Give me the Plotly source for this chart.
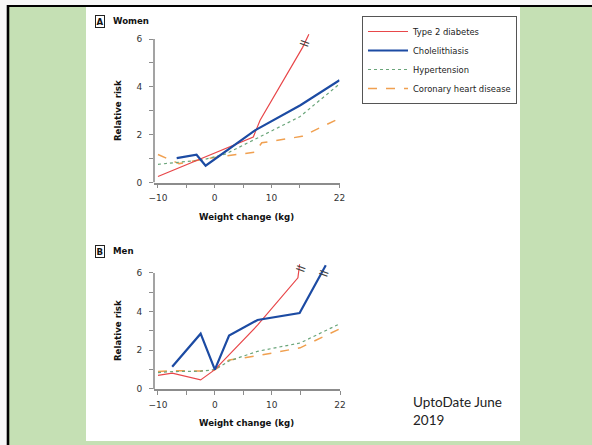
import plotly.graph_objects as go

W, H = 592, 445

def px(x):
    return x / W

def py(y):
    return 1 - y / H

# ---------------- data ----------------
series_names = ["Type 2 diabetes", "Cholelithiasis", "Hypertension", "Coronary heart disease"]

# Women (panel A)
w_diab_x = [-10, 6.8, 8.0, 15.5, 16.6]
w_diab_y = [0.25, 1.9, 2.6, 5.65, 6.2]
w_chol_x = [-6.7, -3.2, -1.6, 7.1, 15.1, 22]
w_chol_y = [1.02, 1.16, 0.70, 2.18, 3.23, 4.28]
w_hyp_x = [-10, -6, -2, 2, 7, 15, 22]
w_hyp_y = [0.76, 0.85, 0.95, 1.2, 1.8, 2.75, 4.12]
w_chd_x = [-10, -6.3, 0, 7.1, 8.3, 15.4, 22]
w_chd_y = [1.17, 0.79, 1.05, 1.27, 1.66, 1.93, 2.68]

# Men (panel B)
m_diab_x = [-10, -7.5, -2.5, 0, 7.5, 14.6, 14.9]
m_diab_y = [0.7, 0.82, 0.47, 1.0, 3.3, 5.75, 6.45]
m_chol_x = [-7.5, -2.5, 0, 2.5, 7.5, 14.9, 19.5]
m_chol_y = [1.15, 2.86, 1.0, 2.76, 3.57, 3.93, 6.4]
m_hyp_x = [-10, -7.5, -2.5, 0, 2.5, 7.5, 15, 22]
m_hyp_y = [0.85, 0.9, 0.92, 1.0, 1.45, 1.95, 2.38, 3.38]
m_chd_x = [-10, -7.5, -2.5, 0, 2.5, 7.5, 15, 22]
m_chd_y = [0.9, 0.95, 0.93, 1.0, 1.5, 1.72, 2.13, 3.12]

# axis break marks (x, y) per panel
w_break_x = [16.0]
w_break_y = [5.85]
m_break_x = [15.1, 19.2]
m_break_y = [6.25, 6.0]

x_tickvals = [-10, -5, 0, 5, 10, 15, 22]
x_ticktext = ["\u221210", "", "0", "", "10", "", "22"]
y_tickvals = [0, 1, 2, 3, 4, 5, 6]
y_ticktext = ["0", "", "2", "", "4", "", "6"]

# ---------------- styles ----------------
styles = [
    dict(color="#e8474a", width=1.2, dash="solid"),
    dict(color="#1c4ba3", width=2.2, dash="solid"),
    dict(color="#6aa57a", width=1.2, dash="dot"),
    dict(color="#f0a050", width=1.5, dash="dash"),
]

fig = go.Figure()

women = [(w_diab_x, w_diab_y), (w_chol_x, w_chol_y), (w_hyp_x, w_hyp_y), (w_chd_x, w_chd_y)]
men = [(m_diab_x, m_diab_y), (m_chol_x, m_chol_y), (m_hyp_x, m_hyp_y), (m_chd_x, m_chd_y)]

order = [3, 2, 0, 1]
for i in order:
    xs, ys = women[i]
    fig.add_trace(go.Scatter(x=xs, y=ys, mode="lines", name=series_names[i],
                             line=styles[i], xaxis="x", yaxis="y",
                             legendrank=i, showlegend=True, hoverinfo="skip"))
for i in order:
    xs, ys = men[i]
    fig.add_trace(go.Scatter(x=xs, y=ys, mode="lines", name=series_names[i],
                             line=styles[i], xaxis="x2", yaxis="y2",
                             showlegend=False, hoverinfo="skip"))

axis_col = "#8c8c8c"
tick_font = dict(family="DejaVu Sans", size=9, color="#333333")

common_x = dict(range=[-10.7, 22], tickvals=x_tickvals, ticktext=x_ticktext,
                ticks="outside", ticklen=4, tickcolor=axis_col, tickwidth=1.2,
                showline=True, linecolor=axis_col, linewidth=1.6,
                showgrid=False, zeroline=False, tickfont=tick_font, fixedrange=True,
                automargin=False, ticklabelstandoff=2)
common_y = dict(tickvals=y_tickvals, ticktext=y_ticktext,
                ticks="outside", ticklen=4, tickcolor=axis_col, tickwidth=1.2,
                showline=False, showgrid=False, zeroline=False,
                tickfont=tick_font, fixedrange=True, automargin=False,
                ticklabelstandoff=5)

a_y0, a_unit = 182.5, (182.5 - 39) / 6
a_top = 6.5
b_y0, b_unit = 389.0, (389 - 273) / 6
b_top = 6.7

fig.update_layout(
    xaxis=dict(domain=[px(154), px(339.5)], anchor="y", **common_x),
    yaxis=dict(domain=[py(a_y0), py(a_y0 - a_top * a_unit)], anchor="x",
               range=[0, a_top], **common_y),
    xaxis2=dict(domain=[px(154), px(340)], anchor="y2", **common_x),
    yaxis2=dict(domain=[py(b_y0), py(b_y0 - b_top * b_unit)], anchor="x2",
                range=[0, b_top], **common_y),
)

shapes = [
    dict(type="rect", xref="paper", yref="paper", x0=px(8), x1=1, y0=0, y1=py(6),
         fillcolor="#c5e0b4", line=dict(width=0), layer="below"),
    dict(type="rect", xref="paper", yref="paper", x0=px(86), x1=px(520), y0=py(441), y1=py(7),
         fillcolor="white", line=dict(width=0), layer="below"),
    dict(type="line", xref="paper", yref="paper", x0=px(7), x1=1, y0=py(6), y1=py(6),
         line=dict(color="black", width=2.2), layer="below"),
    dict(type="line", xref="paper", yref="paper", x0=px(8), x1=px(8), y0=0, y1=py(5),
         line=dict(color="black", width=2.6), layer="below"),
    dict(type="line", xref="x domain", yref="y", x0=0, x1=0, y0=0, y1=6,
         line=dict(color=axis_col, width=1.6)),
    dict(type="line", xref="x2 domain", yref="y2", x0=0, x1=0, y0=0, y1=6,
         line=dict(color=axis_col, width=1.6)),
]

title_font = dict(family="DejaVu Sans", size=8.6, color="#111111")
ann = []
for xa, ya, yc_title, yc_rr, lab, name, ylab in [
    ("x", "y", 217, 110.5, "A", "Women", 21.3),
    ("x2", "y2", 423, 330.5, "B", "Men", 251.3),
]:
    ann.append(dict(text="<b>Weight change (kg)</b>", xref="paper", yref="paper",
                    x=px(246.5), y=py(yc_title), showarrow=False, font=title_font,
                    xanchor="center", yanchor="middle"))
    ann.append(dict(text="<b>Relative risk</b>", xref="paper", yref="paper",
                    x=px(117.5), y=py(yc_rr), showarrow=False, font=title_font,
                    textangle=-90, xanchor="center", yanchor="middle"))
    ann.append(dict(text="<b>%s</b>" % lab, xref="paper", yref="paper",
                    x=px(99.5), y=py(ylab), showarrow=False, font=title_font,
                    bordercolor="#222222", borderwidth=1, borderpad=0.5,
                    xanchor="center", yanchor="middle"))
    ann.append(dict(text="<b>%s</b>" % name, xref="paper", yref="paper",
                    x=px(111), y=py(ylab), showarrow=False, font=title_font,
                    xanchor="left", yanchor="middle"))

brk_font = dict(family="DejaVu Sans", size=14, color="#444444")
for bx, by in zip(w_break_x, w_break_y):
    ann.append(dict(text="=", xref="x", yref="y", x=bx, y=by, showarrow=False,
                    textangle=20, font=brk_font))
for bx, by in zip(m_break_x, m_break_y):
    ann.append(dict(text="=", xref="x2", yref="y2", x=bx, y=by, showarrow=False,
                    textangle=20, font=brk_font))

ann.append(dict(text="UptoDate June<br>2019", xref="paper", yref="paper",
                x=px(411), y=py(411), showarrow=False, align="left",
                xanchor="left", yanchor="middle",
                font=dict(family="Lato", size=13.5, color="#222222")))

fig.update_layout(
    width=W, height=H, autosize=False,
    margin=dict(l=0, r=0, t=0, b=0, pad=0, autoexpand=False),
    paper_bgcolor="#f7f7f7", plot_bgcolor="rgba(0,0,0,0)",
    shapes=shapes, annotations=ann,
    showlegend=True,
    legend=dict(x=px(362), y=py(16), xanchor="left", yanchor="top",
                bgcolor="white", bordercolor="#555555", borderwidth=1,
                font=dict(family="DejaVu Sans", size=8.4, color="#222222"),
                traceorder="normal", itemwidth=40, tracegroupgap=0),
)

fig.write_html("out.html")
